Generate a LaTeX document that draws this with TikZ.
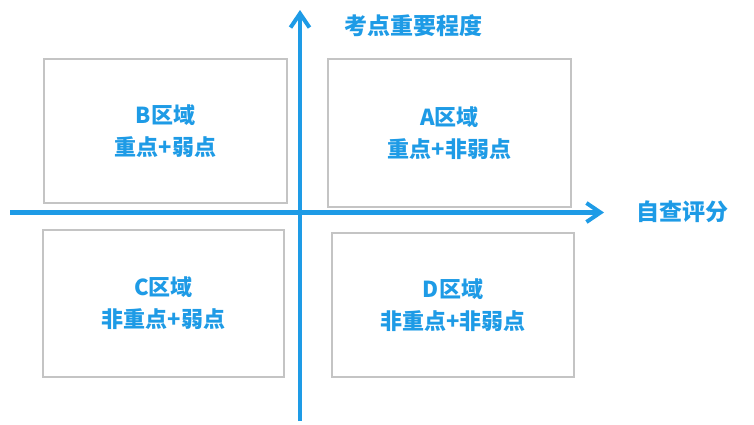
\documentclass[tikz,border=0pt]{standalone}
\usepackage{fontspec}
\newfontfamily\cjk{Noto Sans CJK SC}
\usetikzlibrary{arrows.meta}
\definecolor{axisblue}{HTML}{1E9BE6}
\definecolor{boxgray}{HTML}{C4C4C4}
\tikzset{
  quad/.style={draw=boxgray, line width=1.2pt, fill=white},
  qlabel/.style={text=axisblue, font=\cjk\bfseries\fontsize{22}{32}\selectfont, align=center},
  axis/.style={draw=axisblue, line width=4.5pt, -{Straight Barb[length=14pt,width=19pt,line width=4pt]}},
  alabel/.style={text=axisblue, font=\cjk\bfseries\fontsize{23}{26}\selectfont}
}
\begin{document}
\begin{tikzpicture}[x=1pt,y=-1pt]
\useasboundingbox (0,0) rectangle (754,424);
% boxes
\draw[quad] (44,59) rectangle (287,203);
\draw[quad] (328,59) rectangle (571,207);
\draw[quad] (43,230) rectangle (284,377);
\draw[quad] (332,233) rectangle (574,377);
\node[qlabel] (B) at (165.5,131) {B区域\\重点+弱点};
\node[qlabel] (A) at (449.5,133) {A区域\\重点+非弱点};
\node[qlabel] (C) at (163.5,303) {C区域\\非重点+弱点};
\node[qlabel] (D) at (453,305) {D区域\\非重点+非弱点};
% axes
\coordinate (xs) at (10,212.5);
\coordinate (xe) at (604,212.5);
\coordinate (ys) at (300,421);
\coordinate (ye) at (300,10);
\draw[axis] (xs) -- (xe);
\draw[axis] (ys) -- (ye);
\node[alabel] (xl) at (682,212) {自查评分};
\node[alabel] (yl) at (413.5,26) {考点重要程度};
\end{tikzpicture}
\end{document}
